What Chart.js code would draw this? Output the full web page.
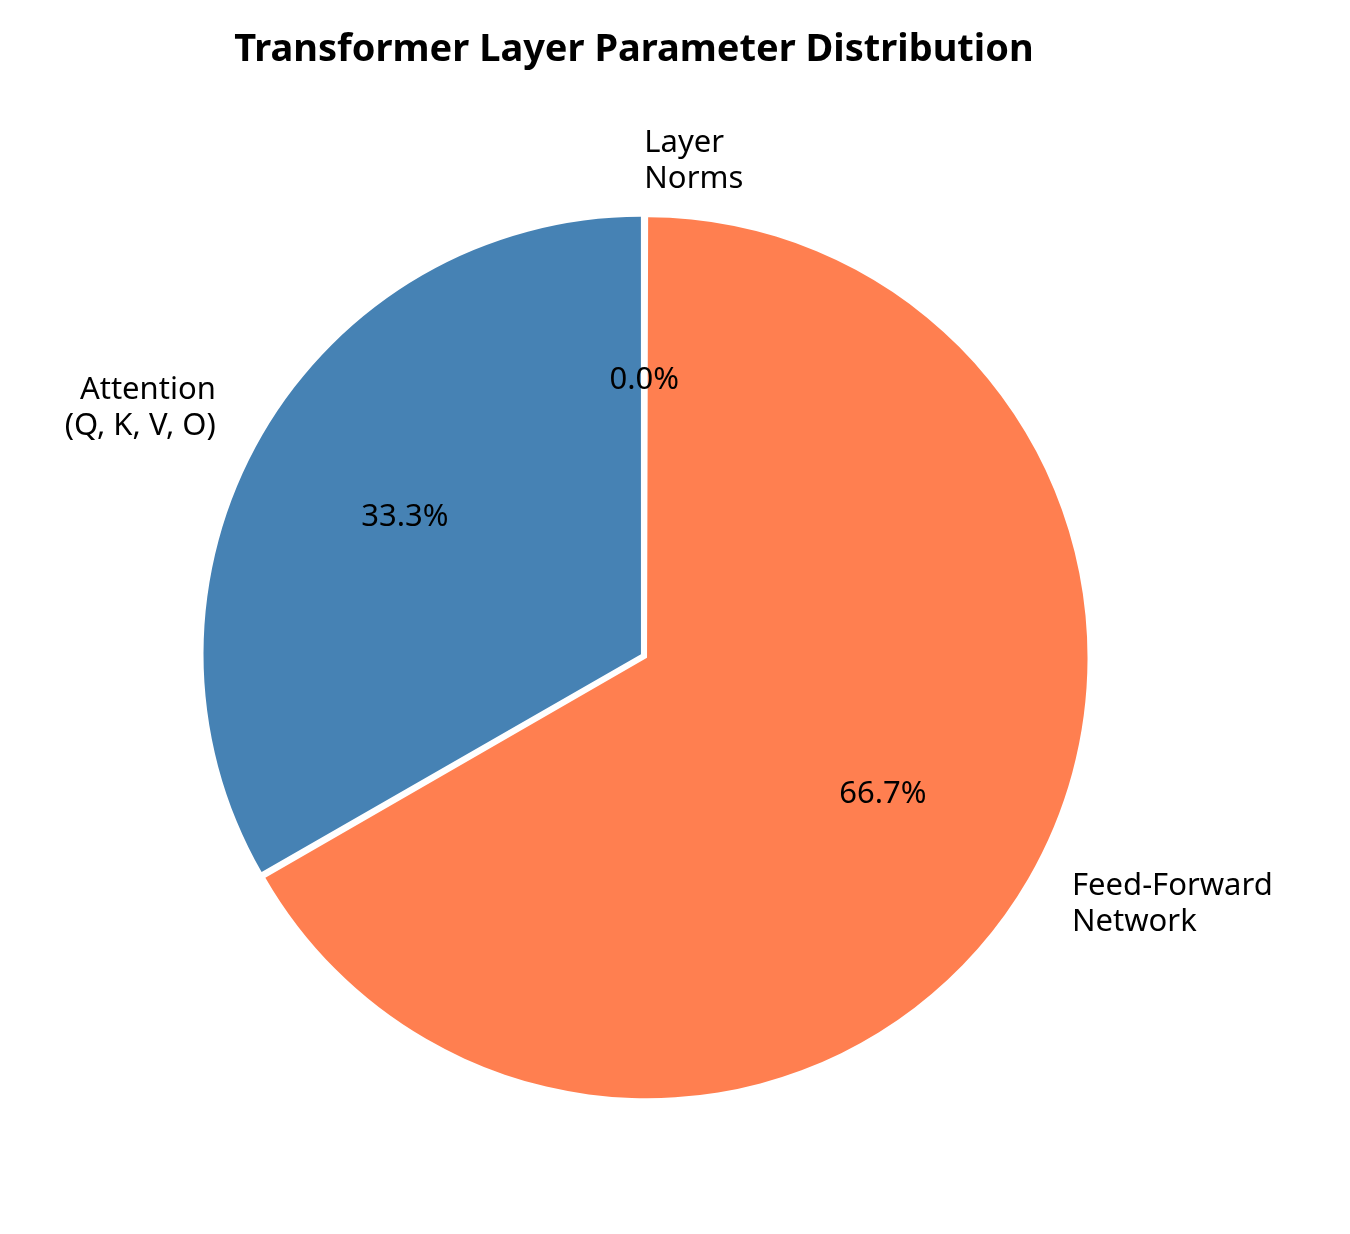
<!DOCTYPE html>
<html lang="en">
<head>
  <meta charset="UTF-8" />
  <title>Transformer Layer Parameter Distribution</title>
  <script src="https://cdn.jsdelivr.net/npm/chart.js"></script>
  <style>
    body { margin: 0; background: #fff; }
    #wrap { width: 1350px; height: 1234px; }
  </style>
</head>
<body>
  <div id="wrap"><canvas id="pie"></canvas></div>
  <script>
    // drawn clockwise from the top, so order is reversed vs. the original
    const labels = [['Layer', 'Norms'], ['Feed-Forward', 'Network'], ['Attention', '(Q, K, V, O)']];
    const values = [0.02, 66.68, 33.3];
    const pctLabels = ['0.0%', '66.7%', '33.3%'];
    const colors = ['#3CB371', '#FF7F50', '#4682B4'];

    const FONT = '"Noto Sans", "DejaVu Sans", sans-serif';
    const R = 437, OFF = 14;

    const labelPlugin = {
      id: 'pieLabels',
      afterDraw(chart) {
        const ctx = chart.ctx;
        ctx.save();
        ctx.fillStyle = '#000';
        ctx.font = 'bold 38px ' + FONT;
        ctx.textAlign = 'center';
        ctx.textBaseline = 'middle';
        ctx.fillText('Transformer Layer Parameter Distribution', 634, 50);

        const arcs = chart.getDatasetMeta(0).data;
        ctx.font = '31px ' + FONT;
        arcs.forEach((arc, i) => {
          const mid = (arc.startAngle + arc.endAngle) / 2;
          const c = Math.cos(mid), s = Math.sin(mid);
          const cx = arc.x + c * OFF, cy = arc.y + s * OFF;
          // percentage
          ctx.textAlign = 'center';
          ctx.fillText(pctLabels[i], cx + c * R * 0.6, cy + s * R * 0.6);
          // outer label
          const lx = cx + c * R * 1.1, ly = cy + s * R * 1.1;
          ctx.textAlign = c < -1e-6 ? 'right' : 'left';
          const lines = labels[i], lh = 36;
          lines.forEach((t, k) => {
            ctx.fillText(t, lx, ly + (k - (lines.length - 1) / 2) * lh);
          });
        });
        ctx.restore();
      }
    };

    new Chart(document.getElementById('pie'), {
      type: 'pie',
      data: {
        labels: labels.map(l => l.join(' ')),
        datasets: [{
          data: values,
          backgroundColor: colors,
          borderWidth: 0,
          offset: OFF
        }]
      },
      options: {
        responsive: true,
        maintainAspectRatio: false,
        animation: false,
        radius: R,
        layout: { padding: { left: 0, right: 62, top: 78, bottom: 0 } },
        plugins: { legend: { display: false }, title: { display: false }, tooltip: { enabled: false } }
      },
      plugins: [labelPlugin]
    });
  </script>
</body>
</html>
